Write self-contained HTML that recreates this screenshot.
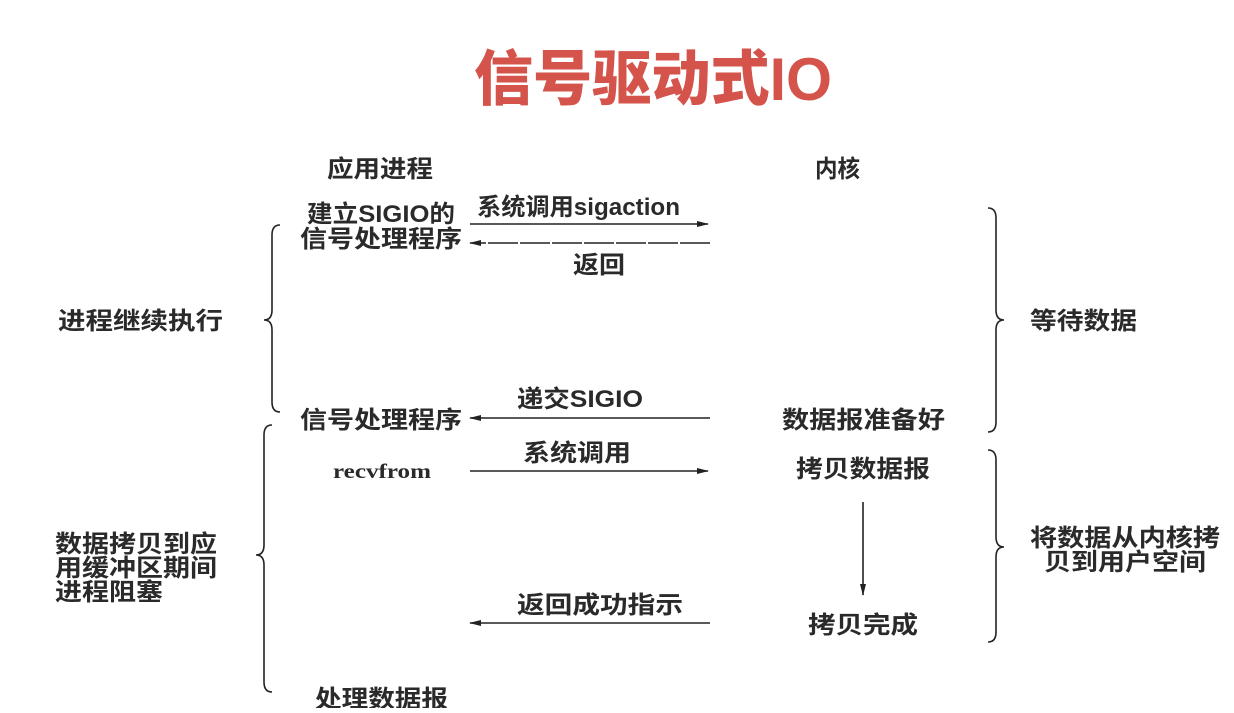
<!DOCTYPE html>
<html><head><meta charset="utf-8"><style>
html,body{margin:0;padding:0;background:#fff;}
svg text{font-family:"Liberation Serif","Noto Serif CJK SC","Noto Sans CJK SC",serif;fill:#222;}
.t{font-family:"Liberation Sans","Noto Sans CJK SC",sans-serif;font-size:24px;font-weight:bold;fill:#2a2a2a;}
.title{font-family:"Liberation Sans","Noto Sans CJK SC",sans-serif;font-size:60px;font-weight:900;fill:#d4534a;}
</style></head><body>
<svg width="1234" height="708" viewBox="0 0 1234 708" xmlns="http://www.w3.org/2000/svg">
<defs><marker id="a" markerWidth="12" markerHeight="8" refX="11" refY="4" orient="auto" markerUnits="userSpaceOnUse"><path d="M0,1 L12,4 L0,7 Z" fill="#222"/></marker></defs>
<text class="title" x="474" y="100" textLength="358" lengthAdjust="spacingAndGlyphs">信号驱动式IO</text>
<text class="t" x="327" y="177" textLength="106" lengthAdjust="spacingAndGlyphs">应用进程</text>
<text class="t" x="815" y="177" textLength="45" lengthAdjust="spacingAndGlyphs">内核</text>
<text class="t" x="307" y="222" textLength="148" lengthAdjust="spacingAndGlyphs">建立SIGIO的</text>
<text class="t" x="300" y="247" textLength="162" lengthAdjust="spacingAndGlyphs">信号处理程序</text>
<text class="t" x="477" y="215" textLength="203" lengthAdjust="spacingAndGlyphs">系统调用sigaction</text>
<text class="t" x="573" y="273" textLength="52" lengthAdjust="spacingAndGlyphs">返回</text>
<text class="t" x="58" y="329" textLength="165" lengthAdjust="spacingAndGlyphs">进程继续执行</text>
<text class="t" x="1030" y="329" textLength="107" lengthAdjust="spacingAndGlyphs">等待数据</text>
<text class="t" x="517" y="407" textLength="126" lengthAdjust="spacingAndGlyphs">递交SIGIO</text>
<text class="t" x="300" y="428" textLength="162" lengthAdjust="spacingAndGlyphs">信号处理程序</text>
<text class="t" x="782" y="428" textLength="163" lengthAdjust="spacingAndGlyphs">数据报准备好</text>
<text class="t" x="523" y="461" textLength="108" lengthAdjust="spacingAndGlyphs">系统调用</text>
<text class="t" x="333" y="478" textLength="98" lengthAdjust="spacingAndGlyphs" style="font-family:'Liberation Serif',serif;font-size:21px">recvfrom</text>
<text class="t" x="796" y="477" textLength="134" lengthAdjust="spacingAndGlyphs">拷贝数据报</text>
<text class="t" x="55" y="552" textLength="162" lengthAdjust="spacingAndGlyphs">数据拷贝到应</text>
<text class="t" x="55" y="576" textLength="162" lengthAdjust="spacingAndGlyphs">用缓冲区期间</text>
<text class="t" x="55" y="600" textLength="108" lengthAdjust="spacingAndGlyphs">进程阻塞</text>
<text class="t" x="1030" y="546" textLength="190" lengthAdjust="spacingAndGlyphs">将数据从内核拷</text>
<text class="t" x="1044" y="570" textLength="162" lengthAdjust="spacingAndGlyphs">贝到用户空间</text>
<text class="t" x="517" y="613" textLength="166" lengthAdjust="spacingAndGlyphs">返回成功指示</text>
<text class="t" x="808" y="633" textLength="110" lengthAdjust="spacingAndGlyphs">拷贝完成</text>
<text class="t" x="315" y="707" textLength="133" lengthAdjust="spacingAndGlyphs">处理数据报</text>
<g stroke="#222" stroke-width="1.6" fill="none">
<line x1="470" y1="224" x2="708" y2="224" marker-end="url(#a)"/>
<line x1="710" y1="243" x2="470" y2="243" marker-end="url(#a)" stroke-dasharray="30,2"/>
<line x1="710" y1="418" x2="470" y2="418" marker-end="url(#a)"/>
<line x1="470" y1="471" x2="708" y2="471" marker-end="url(#a)"/>
<line x1="710" y1="623" x2="470" y2="623" marker-end="url(#a)"/>
<line x1="863" y1="502" x2="863" y2="595" marker-end="url(#a)"/>
<path d="M280,225 Q272,225 272,235 L272,310 Q272,320 264,320 Q272,320 272,330 L272,402 Q272,412 280,412"/>
<path d="M272,425 Q264,425 264,435 L264,545 Q264,555 256,555 Q264,555 264,565 L264,682 Q264,692 272,692"/>
<path d="M988,208 Q996,208 996,218 L996,310 Q996,320 1004,320 Q996,320 996,330 L996,422 Q996,432 988,432"/>
<path d="M988,450 Q996,450 996,460 L996,537 Q996,547 1004,547 Q996,547 996,557 L996,632 Q996,642 988,642"/>
</g>
</svg>
</body></html>
